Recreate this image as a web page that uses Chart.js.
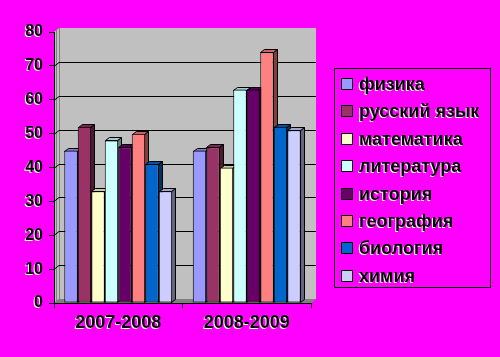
<!DOCTYPE html>
<html><head><meta charset="utf-8">
<script src="https://cdn.jsdelivr.net/npm/chart.js@4/dist/chart.umd.min.js"></script>
<style>html,body{margin:0;padding:0;background:#FF00FF;overflow:hidden}#c{display:block}</style>
</head><body>
<canvas id="c" width="500" height="357"></canvas>
<script>
const categories = ['2007-2008', '2008-2009'];
const subjects = ['физика', 'русский язык', 'математика', 'литература', 'история', 'география', 'биология', 'химия'];
const fizika     = [45, 45];
const russkiy    = [52, 46];
const matematika = [33, 40];
const literatura = [48, 63];
const istoriya   = [46, 63];
const geografiya = [50, 74];
const biologiya  = [41, 52];
const khimiya    = [33, 51];
const yTickValues = [0, 10, 20, 30, 40, 50, 60, 70, 80];
const colors = ['#9999FF', '#993366', '#FFFFCC', '#CCFFFF', '#660066', '#FF8080', '#0066CC', '#CCCCFF'];

const seriesValues = [fizika, russkiy, matematika, literatura, istoriya, geografiya, biologiya, khimiya];

const WALL_DX = 5, WALL_DY = 4, BAR_DX = 4, BAR_DY = 3;

function shade(hex, f) {
  const n = parseInt(hex.slice(1), 16);
  const r = Math.round(((n >> 16) & 255) * f), g = Math.round(((n >> 8) & 255) * f), b = Math.round((n & 255) * f);
  return 'rgb(' + r + ',' + g + ',' + b + ')';
}
function poly(ctx, pts) {
  ctx.beginPath();
  ctx.moveTo(pts[0][0], pts[0][1]);
  for (let i = 1; i < pts.length; i++) ctx.lineTo(pts[i][0], pts[i][1]);
  ctx.closePath();
}

const walls3d = {
  id: 'walls3d',
  beforeDraw(chart) {
    const ctx = chart.ctx;
    const { left, right, top, bottom } = chart.chartArea;
    const y = chart.scales.y;
    ctx.save();
    ctx.lineWidth = 1;
    ctx.fillStyle = '#C0C0C0';
    poly(ctx, [[left + WALL_DX, top - WALL_DY], [right + WALL_DX, top - WALL_DY], [right + WALL_DX, bottom - WALL_DY], [left + WALL_DX, bottom - WALL_DY]]);
    ctx.fill();
    ctx.fillStyle = '#C0C0C0';
    poly(ctx, [[left, top], [left + WALL_DX, top - WALL_DY], [left + WALL_DX, bottom - WALL_DY], [left, bottom]]);
    ctx.fill();
    ctx.strokeStyle = '#808080';
    ctx.beginPath();
    ctx.moveTo(left + WALL_DX + 0.5, top - WALL_DY);
    ctx.lineTo(left + WALL_DX + 0.5, bottom - WALL_DY);
    ctx.moveTo(left + 2.5, top - 2);
    ctx.lineTo(left + 2.5, bottom - 2);
    ctx.stroke();
    ctx.fillStyle = '#808080';
    poly(ctx, [[left, bottom], [right, bottom], [right + WALL_DX, bottom - WALL_DY], [left + WALL_DX, bottom - WALL_DY]]);
    ctx.fill();
    ctx.strokeStyle = '#000';
    y.ticks.forEach(t => {
      if (t.value <= y.min || t.value >= y.max) return;
      const py = Math.round(y.getPixelForValue(t.value)) + 0.5;
      ctx.beginPath();
      ctx.moveTo(left, py);
      ctx.lineTo(left + WALL_DX, py - WALL_DY);
      ctx.lineTo(right + WALL_DX, py - WALL_DY);
      ctx.stroke();
    });
    ctx.restore();
  },
  beforeDatasetsDraw(chart) {
    const ctx = chart.ctx;
    ctx.save();
    ctx.lineWidth = 1;
    ctx.strokeStyle = '#000';
    const nCat = chart.data.labels.length;
    const nDs = chart.data.datasets.length;
    for (let c = 0; c < nCat; c++) {
      for (let d = 0; d < nDs; d++) {
        const el = chart.getDatasetMeta(d).data[c];
        const p = el.getProps(['x', 'y', 'base', 'width'], true);
        const l = Math.round(p.x - p.width / 2) + 0.5, r = Math.round(p.x + p.width / 2) - 0.5;
        const ty = Math.round(p.y) + 0.5, by = Math.round(p.base) - 0.5;
        const col = chart.data.datasets[d].backgroundColor;
        ctx.fillStyle = shade(col, 0.5);
        poly(ctx, [[r, ty], [r + BAR_DX, ty - BAR_DY], [r + BAR_DX, by - BAR_DY], [r, by]]);
        ctx.fill(); ctx.stroke();
        ctx.fillStyle = shade(col, 0.8);
        poly(ctx, [[l, ty], [r, ty], [r + BAR_DX, ty - BAR_DY], [l + BAR_DX, ty - BAR_DY]]);
        ctx.fill(); ctx.stroke();
      }
    }
    ctx.restore();
  },
  afterDatasetsDraw(chart) {
    const ctx = chart.ctx;
    ctx.shadowColor = '#FFFFFF';
    ctx.shadowOffsetX = -1;
    ctx.shadowOffsetY = 1;
    ctx.shadowBlur = 0;
  },
  afterDraw(chart) {
    const ctx = chart.ctx;
    ctx.save();
    ctx.shadowColor = 'rgba(0,0,0,0)';
    ctx.shadowOffsetX = 0; ctx.shadowOffsetY = 0;
    ctx.strokeStyle = '#000';
    ctx.lineWidth = 1;
    ctx.strokeRect(334.5, 68.5, 156, 219);
    const ds = chart.data.datasets;
    ctx.font = 'bold 18px "Liberation Sans", Arial, sans-serif';
    ctx.textBaseline = 'middle';
    ctx.textAlign = 'left';
    for (let i = 0; i < ds.length; i++) {
      const cy = Math.round(84 + i * 27.4);
      ctx.shadowColor = 'rgba(0,0,0,0)';
      ctx.shadowOffsetX = 0; ctx.shadowOffsetY = 0;
      ctx.fillStyle = ds[i].backgroundColor;
      ctx.fillRect(341.5, cy - 5.5, 11, 11);
      ctx.strokeRect(341.5, cy - 5.5, 11, 11);
      ctx.shadowColor = '#FFFFFF';
      ctx.shadowOffsetX = -1; ctx.shadowOffsetY = 1;
      ctx.fillStyle = '#000';
      ctx.fillText(ds[i].label, 359, cy + 1);
    }
    ctx.restore();
    ctx.shadowColor = 'rgba(0,0,0,0)';
    ctx.shadowOffsetX = 0; ctx.shadowOffsetY = 0;
  }
};

const datasets = subjects.map((s, i) => ({
  label: s,
  data: seriesValues[i],
  backgroundColor: colors[i],
  borderColor: '#000000',
  borderWidth: 1,
  borderSkipped: false,
  categoryPercentage: 0.84,
  barPercentage: 1.0
}));

new Chart(document.getElementById('c'), {
  type: 'bar',
  data: { labels: categories, datasets: datasets },
  options: {
    responsive: false,
    animation: false,
    devicePixelRatio: 1,
    layout: { padding: { left: 0, right: 189, top: 32, bottom: 0 } },
    plugins: { legend: { display: false }, tooltip: { enabled: false }, title: { display: false } },
    scales: {
      x: {
        grid: { display: true, drawOnChartArea: false, drawTicks: true, tickLength: 5, color: '#000', offset: true },
        border: { display: true, color: '#000', width: 1 },
        ticks: { color: '#000', font: { family: '"Liberation Sans", Arial, sans-serif', size: 18, weight: 'bold' }, padding: 4, z: 1, maxRotation: 0 },
        afterFit: s => { s.height = 54; }
      },
      y: {
        min: 0, max: 80,
        afterBuildTicks: s => { s.ticks = yTickValues.map(v => ({ value: v })); },
        grid: { display: true, drawOnChartArea: false, drawTicks: true, tickLength: 5, color: '#000' },
        border: { display: true, color: '#000', width: 1 },
        ticks: { color: '#000', font: { family: '"Liberation Sans", Arial, sans-serif', size: 16, weight: 'bold' }, padding: 6, z: 1 },
        afterFit: s => { s.width = 54; }
      }
    }
  },
  plugins: [walls3d]
});
</script>
</body></html>
